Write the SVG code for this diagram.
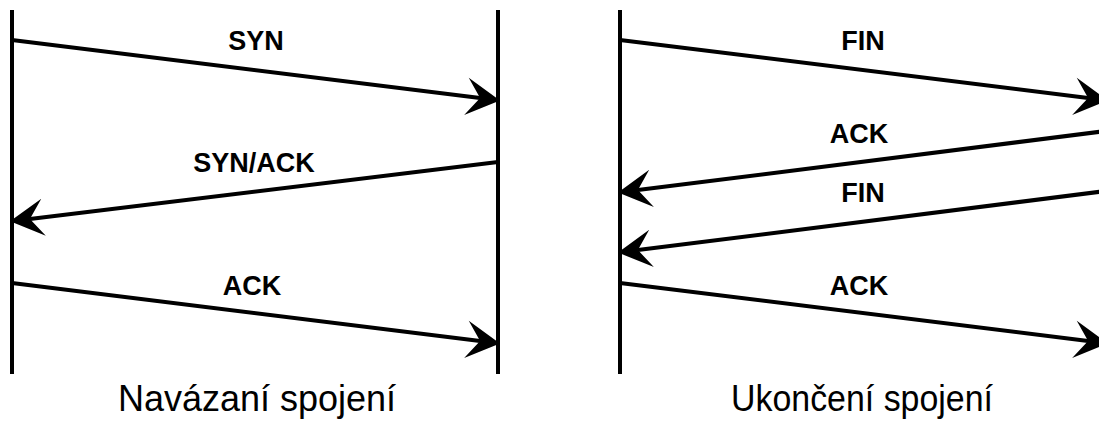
<svg xmlns="http://www.w3.org/2000/svg" width="1099" height="421" viewBox="0 0 1099 421">
  <style>
    .lifeline { stroke: #000; stroke-width: 4; fill: none; }
    .msg { stroke: #000; stroke-width: 4; fill: none; marker-end: url(#arrow); }
    .label { font-family: "Liberation Sans", Arial, sans-serif; font-weight: bold; font-size: 27px; fill: #000; text-anchor: middle; }
    .title { font-family: "Liberation Sans", Arial, sans-serif; font-size: 36px; fill: #000; text-anchor: middle; }
  </style>
  <defs>
    <!-- classic arrowhead; origin sits at the notch, tip 16px ahead -->
    <marker id="arrow" markerUnits="userSpaceOnUse" markerWidth="40" markerHeight="40" viewBox="-12 -16 30 32" refX="0" refY="0" orient="auto" overflow="visible">
      <path d="M16,0 L-11,-15 L0,0 L-11,15 Z" fill="#000"/>
    </marker>
  </defs>
  <rect width="1099" height="421" fill="#fff"/>

  <!-- connection setup -->
  <g id="setup-client"><line class="lifeline" x1="12" y1="10" x2="12" y2="374"/></g>
  <g id="setup-server"><line class="lifeline" x1="498" y1="10" x2="498" y2="374"/></g>

  <!-- connection teardown -->
  <g id="teardown-client"><line class="lifeline" x1="620" y1="10" x2="620" y2="374"/></g>
  <g id="teardown-server"><line class="lifeline" x1="1106" y1="10" x2="1106" y2="374"/></g>

  <g id="messages">
    <!-- each line stops at the arrow notch (16px short of the tip) -->
    <line class="msg" x1="12" y1="40" x2="480.1" y2="98"/>
    <line class="msg" x1="498" y1="162" x2="29.9" y2="218.9"/>
    <line class="msg" x1="12" y1="283" x2="480.1" y2="341"/>

    <line class="msg" x1="620" y1="40" x2="1088.1" y2="98"/>
    <line class="msg" x1="1106" y1="131" x2="637.9" y2="190.1"/>
    <line class="msg" x1="1106" y1="191" x2="637.9" y2="250.1"/>
    <line class="msg" x1="620" y1="283" x2="1088.1" y2="341"/>
  </g>

  <g id="labels">
    <text class="label" x="256" y="50">SYN</text>
    <text class="label" x="254" y="172">SYN/ACK</text>
    <text class="label" x="252" y="295">ACK</text>

    <text class="label" x="863" y="50">FIN</text>
    <text class="label" x="859" y="143">ACK</text>
    <text class="label" x="863" y="202">FIN</text>
    <text class="label" x="859" y="295">ACK</text>
  </g>

  <g id="titles">
    <text class="title" x="257" y="411">Navázaní spojení</text>
    <text class="title" x="862" y="411" textLength="262" lengthAdjust="spacingAndGlyphs">Ukončení spojení</text>
  </g>
</svg>
